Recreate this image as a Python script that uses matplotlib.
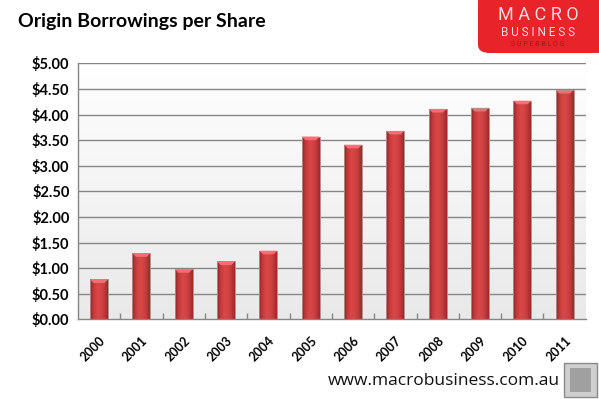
import matplotlib
matplotlib.use("Agg")
import matplotlib.pyplot as plt
import numpy as np
from matplotlib.patches import FancyBboxPatch, Rectangle
from matplotlib.colors import LinearSegmentedColormap

years = ["2000", "2001", "2002", "2003", "2004", "2005",
         "2006", "2007", "2008", "2009", "2010", "2011"]
values = [0.78, 1.29, 0.98, 1.13, 1.34, 3.57, 3.41, 3.68, 4.11, 4.13, 4.27, 4.48]
yticks = [0.0, 0.5, 1.0, 1.5, 2.0, 2.5, 3.0, 3.5, 4.0, 4.5, 5.0]
title = "Origin Borrowings per Share"
footer = "www.macrobusiness.com.au"

FONT = ["Lato", "DejaVu Sans"]

fig = plt.figure(figsize=(5.99, 3.99), dpi=100)
fig.patch.set_facecolor("white")
ax = fig.add_axes([0.130, 0.1997, 0.848, 0.6416])

x = np.arange(len(years))
ax.set_xlim(-0.5, len(years) - 0.5)
ax.set_ylim(0, 5.0)

# background gradient of plot area
bg = np.linspace(0, 1, 256).reshape(-1, 1)
bg_cmap = LinearSegmentedColormap.from_list("bg", ["#e9e9e9", "#ffffff"])
ax.imshow(bg, cmap=bg_cmap, aspect="auto", extent=[-0.5, len(years) - 0.5, 0, 5.0],
          origin="lower", zorder=0)

for yv in yticks[1:]:
    ax.axhline(yv, color="#868686", lw=1.0, zorder=1)

bar_cmap = LinearSegmentedColormap.from_list(
    "bar", ["#8e2424", "#c23a3a", "#d94646", "#d54444", "#c03a3a", "#9a2a2a"])
grad = np.linspace(0, 1, 256).reshape(1, -1)
bars = ax.bar(x, values, width=0.42, color="#c93d3d", edgecolor="#b8a0a0",
              linewidth=0.6, zorder=2)
for b in bars:
    x0, w, h = b.get_x(), b.get_width(), b.get_height()
    im = ax.imshow(grad, cmap=bar_cmap, aspect="auto",
                   extent=[x0, x0 + w, 0, h], zorder=3)
    im.set_clip_path(b)
    # lighter bevel cap at top
    ax.fill([x0, x0 + w, x0 + w * 0.8, x0 + w * 0.2],
            [h, h, h - 0.07, h - 0.07], color="#f07070", zorder=4, lw=0)
    ax.plot([x0, x0 + w, x0 + w, x0, x0], [0, 0, h, h, 0], color="#b89090",
            lw=0.6, zorder=5)

for s in ["top", "right"]:
    ax.spines[s].set_visible(False)
for s in ["left", "bottom"]:
    ax.spines[s].set_color("#868686")
    ax.spines[s].set_linewidth(1.0)
    ax.spines[s].set_zorder(6)

ax.set_yticks(yticks)
ax.set_yticklabels([f"${v:.2f}" for v in yticks], fontsize=10.5,
                   fontweight="bold", family=FONT)
ax.tick_params(axis="y", length=0, pad=6)

ax.set_xticks(x)
ax.set_xticklabels(years, rotation=45, ha="right", rotation_mode="anchor",
                   fontsize=9, fontweight="bold", family=FONT)
ax.tick_params(axis="x", length=0, pad=11)
ax.set_xticks(np.arange(0.5, len(years) - 0.5, 1.0), minor=True)
ax.tick_params(axis="x", which="minor", length=4, direction="in",
               color="#868686", width=1)
ax.set_axisbelow(False)

fig.text(18 / 599, 1 - 22 / 399, title, fontsize=14, fontweight="bold",
         family=FONT, ha="left", va="center", color="black")

# logo box
logo = FancyBboxPatch((478 / 599, 1 - 53 / 399), 130 / 599, 60 / 399,
                      boxstyle="round,pad=0,rounding_size=0.02",
                      transform=fig.transFigure, facecolor="#e8232a",
                      edgecolor="none", zorder=10)
fig.patches.append(logo)
fig.text(538 / 599, 1 - 15 / 399, "M A C R O", fontsize=13, color="#f6dada",
         family=["Roboto", "DejaVu Sans"], ha="center", va="center", zorder=11)
fig.text(538 / 599, 1 - 32 / 399, "B U S I N E S S", fontsize=8.5, color="#f6dada",
         family=["Roboto", "DejaVu Sans"], ha="center", va="center", zorder=11)
fig.text(538 / 599, 1 - 44 / 399, "S U P E R B L O G", fontsize=5, color="#a01818",
         family=["Roboto", "DejaVu Sans"], ha="center", va="center", zorder=11)

fig.text(560 / 599, 1 - 381 / 399, footer, fontsize=12.5, color="#111111",
         family=["Open Sans", "DejaVu Sans"], ha="right", va="center")

wolf = Rectangle((564 / 599, 1 - 397 / 399), 33 / 599, 34 / 399,
                 transform=fig.transFigure, facecolor="#cfcfcf",
                 edgecolor="#8a8a8a", lw=1.0)
fig.patches.append(wolf)
inner = Rectangle((570 / 599, 1 - 392 / 399), 21 / 599, 24 / 399,
                  transform=fig.transFigure, facecolor="#a0a0a0",
                  edgecolor="none")
fig.patches.append(inner)

fig.savefig("out.png", dpi=100)
